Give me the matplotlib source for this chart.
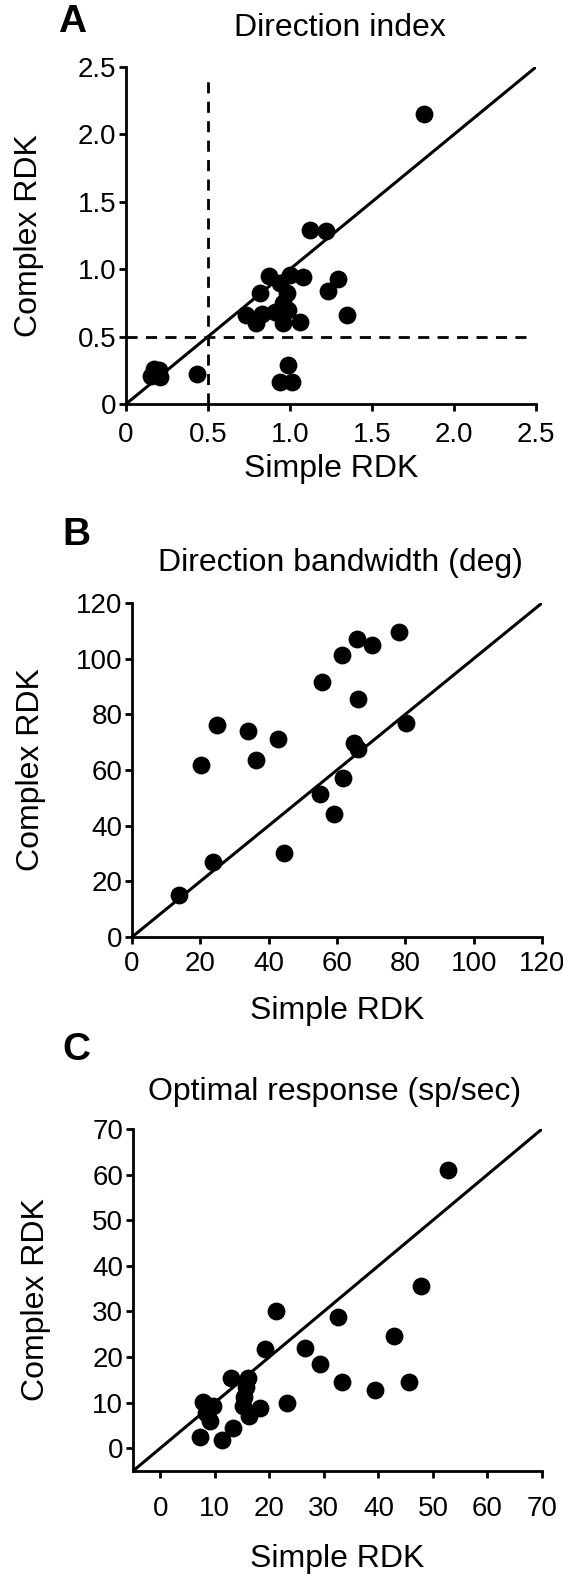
import matplotlib.pyplot as plt
import numpy as np

plt.rcParams['font.family'] = ['Liberation Sans', 'DejaVu Sans']

# Panel A: direction index
di_simple = [1.12, 1.22, 0.87, 1.00, 1.08, 0.94, 0.82, 0.98, 0.96, 1.23, 1.29,
             0.73, 0.79, 0.83, 0.91, 0.99, 0.96, 1.06, 1.35, 0.99, 0.94, 1.01,
             0.43, 0.15, 0.20, 0.17, 0.21, 1.82]
di_complex = [1.29, 1.28, 0.95, 0.96, 0.94, 0.90, 0.82, 0.82, 0.75, 0.84, 0.93,
              0.66, 0.60, 0.67, 0.68, 0.70, 0.60, 0.61, 0.66, 0.29, 0.16, 0.16,
              0.22, 0.21, 0.25, 0.26, 0.20, 2.15]

# Panel B: direction bandwidth (deg)
bw_simple = [13.8, 23.6, 44.6, 20.1, 25.0, 34.0, 36.2, 42.6, 55.5, 55.0, 59.2,
             61.7, 61.4, 65.8, 70.2, 78.2, 66.0, 65.0, 66.0, 80.3]
bw_complex = [15.0, 27.0, 30.3, 61.9, 76.0, 73.9, 63.5, 71.3, 91.6, 51.3, 44.3,
              57.1, 101.2, 107.2, 104.8, 109.6, 85.4, 69.7, 67.7, 76.9]

# Panel C: optimal response (sp/sec)
or_simple = [7.2, 11.3, 13.4, 9.2, 7.9, 9.6, 8.3, 12.9, 16.0, 15.7, 15.4, 15.1,
             16.2, 18.3, 19.2, 21.2, 23.3, 26.5, 29.2, 32.5, 33.4, 39.3, 42.9,
             45.7, 47.9, 52.8]
or_complex = [2.4, 1.8, 4.4, 5.9, 10.2, 9.2, 7.7, 15.5, 15.4, 13.5, 11.3, 9.3,
              7.0, 8.8, 21.8, 30.0, 10.0, 22.0, 18.5, 28.7, 14.6, 12.7, 24.7,
              14.6, 35.5, 60.9]

W, H = 563, 1575
fig = plt.figure(figsize=(W / 100, H / 100), dpi=100)


def make_axes(left, top, right, bottom):
    return fig.add_axes([left / W, 1 - bottom / H, (right - left) / W, (bottom - top) / H])


def style(ax, pad):
    for s in ['top', 'right']:
        ax.spines[s].set_visible(False)
    for s in ['left', 'bottom']:
        ax.spines[s].set_linewidth(2)
    ax.tick_params(direction='out', length=5, width=2, labelsize=20)
    ax.tick_params(axis='x', pad=pad)
    ax.tick_params(axis='y', pad=2)
    ax.set_ylabel('Complex RDK', fontsize=23)


# A
ax = make_axes(126, 67, 536, 404)
ax.plot([0, 2.5], [0, 2.5], color='black', lw=2.2)
ax.plot([0.5, 0.5], [0, 2.45], color='black', lw=2, ls=(0, (4, 3)))
ax.plot([0, 2.45], [0.5, 0.5], color='black', lw=2, ls=(0, (4, 3)))
ax.scatter(di_simple, di_complex, s=140, color='black', zorder=3)
ax.set_xlim(0, 2.5)
ax.set_ylim(0, 2.5)
ticks = [0, 0.5, 1.0, 1.5, 2.0, 2.5]
labels = ['0', '0.5', '1.0', '1.5', '2.0', '2.5']
ax.set_xticks(ticks, labels)
ax.set_yticks(ticks, labels)
style(ax, 8)
ax.set_xlabel('Simple RDK', fontsize=23, labelpad=4)
ax.yaxis.set_label_coords(-0.2, 0.5)
fig.text(58 / W, 1 - 22 / H, 'A', fontsize=28, fontweight='bold', va='center')
fig.text(340 / W, 1 - 28 / H, 'Direction index', fontsize=23, ha='center', va='center')

# B
ax = make_axes(132, 603, 542, 937)
ax.plot([0, 120], [0, 120], color='black', lw=2.2)
ax.scatter(bw_simple, bw_complex, s=140, color='black', zorder=3)
ax.set_xlim(0, 120)
ax.set_ylim(0, 120)
ax.set_xticks(range(0, 121, 20))
ax.set_yticks(range(0, 121, 20))
style(ax, 5)
ax.set_xlabel('Simple RDK', fontsize=23, labelpad=14)
ax.yaxis.set_label_coords(-0.21, 0.5)
fig.text(62 / W, 1 - 535 / H, 'B', fontsize=28, fontweight='bold', va='center')
fig.text(340 / W, 1 - 563 / H, 'Direction bandwidth (deg)', fontsize=23, ha='center', va='center')

# C
ax = make_axes(133, 1129, 542, 1471)
ax.plot([-5, 70], [-5, 70], color='black', lw=2.2)
ax.scatter(or_simple, or_complex, s=140, color='black', zorder=3)
ax.set_xlim(-5, 70)
ax.set_ylim(-5, 70)
ax.set_xticks(range(0, 71, 10))
ax.set_yticks(range(0, 71, 10))
style(ax, 13)
ax.set_xlabel('Simple RDK', fontsize=23, labelpad=16)
ax.yaxis.set_label_coords(-0.2, 0.5)
fig.text(62 / W, 1 - 1050 / H, 'C', fontsize=28, fontweight='bold', va='center')
fig.text(335 / W, 1 - 1092 / H, 'Optimal response (sp/sec)', fontsize=23, ha='center', va='center')

fig.savefig('out.png', dpi=100)
